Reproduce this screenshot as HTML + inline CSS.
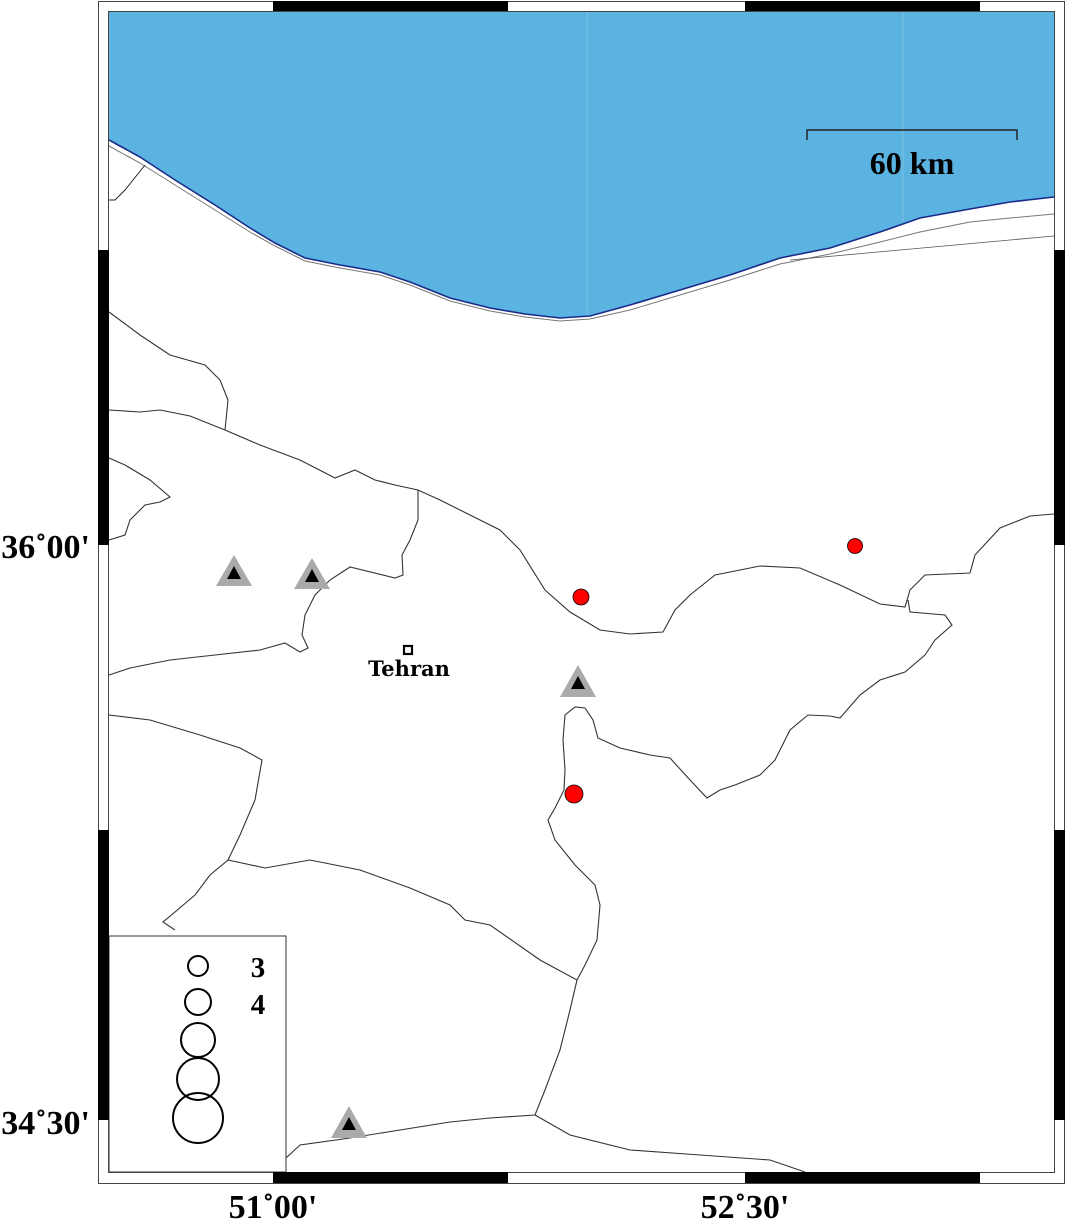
<!DOCTYPE html>
<html><head><meta charset="utf-8"><style>html,body{margin:0;padding:0;background:#fff}svg{display:block}</style></head>
<body>
<svg width="1066" height="1221" viewBox="0 0 1066 1221" xmlns="http://www.w3.org/2000/svg">
<rect x="0" y="0" width="1066" height="1221" fill="#fff"/>
<path d="M109,11 L1054,11 L1054,197 L1010,202 L970,209 L920,218 L880,232 L830,248 L780,258 L730,275 L680,290 L630,305 L590,316 L560,318 L525,314 L490,308 L450,298 L410,282 L380,272 L340,265 L305,258 L275,243 L250,228 L215,205 L175,180 L140,157 L109,140 Z" fill="#5ab3e0"/>
<line x1="587" y1="11" x2="587" y2="316" stroke="#7fc1e4" stroke-width="1"/>
<line x1="903" y1="11" x2="903" y2="222" stroke="#7fc1e4" stroke-width="1"/>
<path d="M1054,197 L1010,202 L970,209 L920,218 L880,232 L830,248 L780,258 L730,275 L680,290 L630,305 L590,316 L560,318 L525,314 L490,308 L450,298 L410,282 L380,272 L340,265 L305,258 L275,243 L250,228 L215,205 L175,180 L140,157 L109,140" fill="none" stroke="#1a2a8a" stroke-width="1.6"/>
<path d="M1054,214 L1010,218 L970,222 L920,232 L880,242 L830,254 L780,264 L730,280 L680,295 L630,310 L590,319 L560,321 L525,317 L490,311 L450,301 L410,285 L380,275 L340,268 L305,261 L275,246 L250,232 L215,210 L175,185 L140,163 L109,146" fill="none" stroke="#777" stroke-width="1"/>
<path d="M790,260 L1054,236" fill="none" stroke="#555" stroke-width="0.8"/>
<path d="M145,165 L125,190 L115,200 L109,200" fill="none" stroke="#222" stroke-width="1"/>
<g fill="none" stroke="#333" stroke-width="1.1">
<path d="M109,410 L140,412 L160,410 L190,416 L225,430 L260,445 L300,460 L335,478 L355,470 L375,480 L395,485 L418,490 L440,500 L470,515 L500,530 L520,550 L545,590 L570,612 L600,630 L630,634 L663,632 L675,610 L690,595 L715,575 L760,566 L800,568 L840,585 L880,604 L905,607 L910,590 L925,575 L970,573 L975,555 L1000,528 L1030,516 L1054,514"/>
<path d="M908,600 L910,612 L945,615 L952,625 L935,640 L925,655 L905,672 L880,680 L860,695 L840,718 L830,716 L808,715 L790,730 L775,760 L760,775 L735,785 L720,790 L707,798 L690,780 L670,758 L650,755 L620,748 L598,738 L593,720 L585,708 L575,707 L565,715 L563,740 L565,770 L564,790 L555,808 L548,820 L555,840 L575,865 L595,885 L600,905 L597,940 L585,965 L577,980"/>
<path d="M418,490 L418,520 L410,540 L402,555 L403,575 L395,578 L350,567 L330,580 L315,595 L305,615 L302,635 L308,648 L300,652 L285,643 L260,650 L215,655 L170,660 L130,668 L109,675"/>
<path d="M109,458 L125,465 L150,480 L170,497 L160,502 L145,505 L130,520 L125,535 L109,540"/>
<path d="M109,312 L140,335 L170,355 L205,365 L220,380 L228,400 L225,430"/>
<path d="M109,715 L150,720 L200,735 L240,748 L262,760 L255,800 L240,835 L228,860 L210,875 L195,895 L175,912 L163,922 L175,930"/>
<path d="M228,860 L265,868 L310,860 L360,870 L410,888 L450,905 L465,920 L490,925 L540,960 L577,980 L570,1010 L560,1050 L545,1090 L535,1115 L490,1118 L450,1122 L400,1130 L350,1138 L300,1145 L286,1158"/>
<path d="M535,1115 L570,1135 L630,1150 L700,1155 L770,1160 L805,1172"/>
</g>
<path d="M807,140 L807,130 L1017,130 L1017,140" fill="none" stroke="#222" stroke-width="1.5"/>
<text x="912" y="174" font-family="Liberation Serif, serif" font-weight="bold" font-size="32" text-anchor="middle">60 km</text>
<g>
<polygon points="234,555 216,586 252,586" fill="#aaa"/><polygon points="234,566 227,579 241,579" fill="#000"/>
<polygon points="312,558 294,589 330,589" fill="#aaa"/><polygon points="312,569 305,582 319,582" fill="#000"/>
<polygon points="578,665 560,697 596,697" fill="#aaa"/><polygon points="578,676 571,689 585,689" fill="#000"/>
<polygon points="349,1106 331,1138 367,1138" fill="#aaa"/><polygon points="349,1117 342,1130 356,1130" fill="#000"/>
</g>
<circle cx="581" cy="597" r="8" fill="#f00" stroke="#000" stroke-width="0.8"/>
<circle cx="855" cy="546" r="7.5" fill="#f00" stroke="#000" stroke-width="0.8"/>
<circle cx="574" cy="794" r="9" fill="#f00" stroke="#000" stroke-width="0.8"/>
<rect x="404" y="646" width="8" height="8" fill="#fff" stroke="#000" stroke-width="2.2"/>
<text x="409" y="676" font-family="DejaVu Serif, serif" font-weight="bold" font-size="21" text-anchor="middle">Tehran</text>
<rect x="109" y="936" width="177" height="236" fill="#fff" stroke="#333" stroke-width="1"/>
<g fill="none" stroke="#000" stroke-width="2">
<circle cx="198" cy="966" r="10"/>
<circle cx="198" cy="1002" r="13"/>
<circle cx="198" cy="1040" r="17"/>
<circle cx="198" cy="1079" r="21"/>
<circle cx="198" cy="1118" r="25"/>
</g>
<text x="258" y="977" font-family="Liberation Serif, serif" font-weight="bold" font-size="29" text-anchor="middle">3</text>
<text x="258" y="1014" font-family="Liberation Serif, serif" font-weight="bold" font-size="29" text-anchor="middle">4</text>
<rect x="98.5" y="1.5" width="966" height="1182" fill="none" stroke="#444" stroke-width="1"/>
<rect x="108.5" y="11.5" width="946" height="1161" fill="none" stroke="#444" stroke-width="1"/>
<g fill="#000">
<rect x="273" y="1" width="235" height="10"/><rect x="745" y="1" width="235" height="10"/>
<rect x="273" y="1172" width="235" height="11"/><rect x="745" y="1172" width="235" height="11"/>
<rect x="98" y="250" width="11" height="295"/><rect x="98" y="830" width="11" height="290"/>
<rect x="1054" y="250" width="11" height="295"/><rect x="1054" y="830" width="11" height="290"/>
</g>
<g font-family="Liberation Serif, serif" font-weight="bold" font-size="34">
<text x="90" y="558" text-anchor="end">36˚00'</text>
<text x="90" y="1134" text-anchor="end">34˚30'</text>
<text x="273" y="1218" text-anchor="middle">51˚00'</text>
<text x="745" y="1218" text-anchor="middle">52˚30'</text>
</g>
</svg>
</body></html>
